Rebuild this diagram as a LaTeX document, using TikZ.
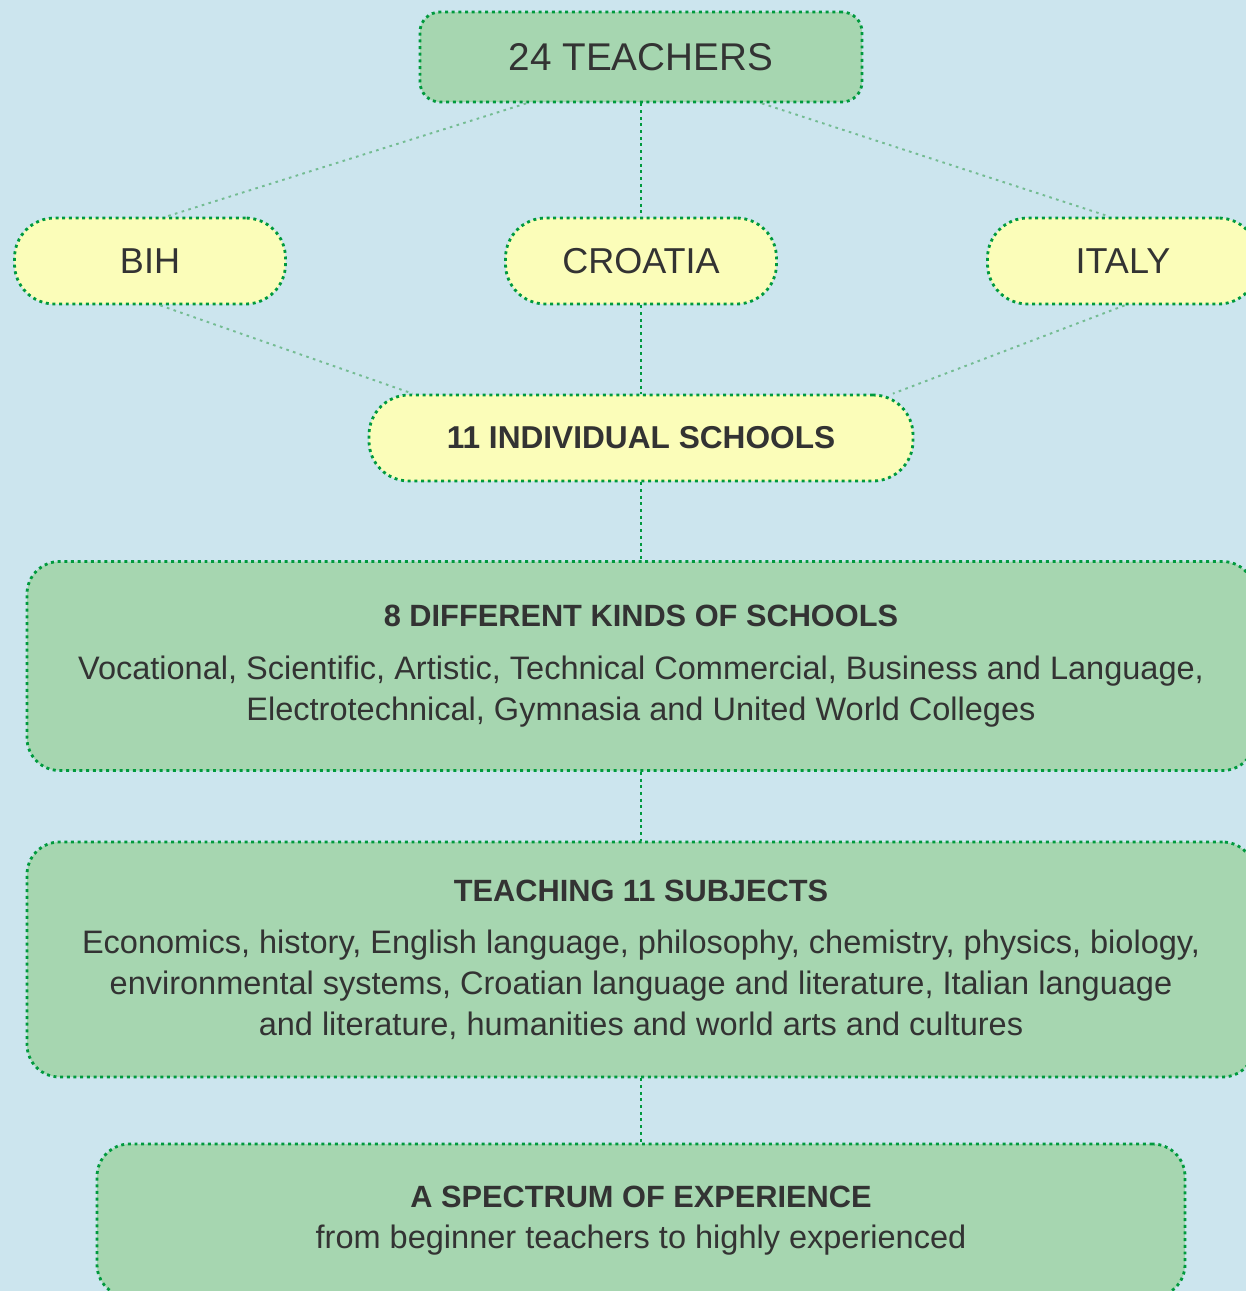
\documentclass[tikz,border=0pt]{standalone}
\usepackage{fontspec}
\setmainfont{Liberation Sans}
\usetikzlibrary{positioning}

\definecolor{bgblue}{HTML}{CCE5EE}
\definecolor{boxgreen}{HTML}{A6D6B0}
\definecolor{boxyellow}{HTML}{FBFDB9}
\definecolor{dotgreen}{HTML}{009A3E}
\definecolor{linkgreen}{HTML}{74BC92}
\definecolor{textgray}{HTML}{333333}

\newcommand{\boxtitle}[1]{{\fontsize{17.5}{22}\selectfont\bfseries #1}}

\begin{document}
\begin{tikzpicture}[node distance=2cm, on grid,
    box/.style={draw=dotgreen, line width=1.6pt, dash pattern=on 1.7pt off 2.1pt,
      fill=boxgreen, text=textgray, rounded corners=0.65cm, inner sep=0pt, align=center,
      font=\fontsize{18.5}{23.3}\selectfont},
    pill/.style={box, fill=boxyellow, rounded corners=0.8cm, minimum height=1.72cm},
    trunk/.style={dotgreen, line width=1.6pt, dash pattern=on 1.7pt off 2.1pt},
    branch/.style={linkgreen, line width=1.1pt, dash pattern=on 1.5pt off 2.5pt}]
        \fill[bgblue] (0,0) rectangle (24.92,-25.82);
        \useasboundingbox (0,0) rectangle (24.92,-25.82);
        \clip (0,0) rectangle (24.92,-25.82);

        \node[box, rounded corners=0.4cm, minimum width=8.84cm, minimum height=1.8cm,
          font=\fontsize{22}{26}\selectfont] (teach) at (12.82,-1.14) {24 TEACHERS};
        \node[pill, minimum width=5.42cm, font=\fontsize{20.5}{24}\selectfont] (cro)  [below=4.08cm of teach] {CROATIA};
        \node[pill, minimum width=5.42cm, font=\fontsize{20.5}{24}\selectfont] (bih)  [left=9.82cm of cro]   {BIH};
        \node[pill, minimum width=5.42cm, font=\fontsize{20.5}{24}\selectfont] (ita)  [right=9.64cm of cro]  {ITALY};
        \node[pill, minimum width=10.88cm, font=\fontsize{18}{22}\selectfont\bfseries] (ind) [below=3.54cm of cro] {11 INDIVIDUAL SCHOOLS};
        \node[box, minimum width=24.56cm, minimum height=4.18cm] (kinds) [below=4.56cm of ind]
          {\boxtitle{8 DIFFERENT KINDS OF SCHOOLS}\\[0.24cm]
           Vocational, Scientific, Artistic, Technical Commercial, Business and Language,\\
           Electrotechnical, Gymnasia and United World Colleges};
        \node[box, minimum width=24.56cm, minimum height=4.7cm] (subj) [below=5.87cm of kinds]
          {\boxtitle{TEACHING 11 SUBJECTS}\\[0.22cm]
           Economics, history, English language, philosophy, chemistry, physics, biology,\\
           environmental systems, Croatian language and literature, Italian language\\
           and literature, humanities and world arts and cultures};
        \node[box, minimum width=21.76cm, minimum height=3.06cm] (exp) [below=5.22cm of subj]
          {\boxtitle{A SPECTRUM OF EXPERIENCE}\\
           from beginner teachers to highly experienced};

        % trunk down the middle
        \path[trunk]
          (teach) edge (cro)
          (cro)   edge (ind)
          (ind)   edge (kinds)
          (kinds) edge (subj)
          (subj)  edge (exp);

        % side branches
        \path[branch]
          (teach.202) edge (bih.70)
          (teach.339) edge (ita.107)
          (bih.283)   edge (ind.169.6)
          (ita.272)   edge (ind.10.3);
      \end{tikzpicture}
\end{document}
